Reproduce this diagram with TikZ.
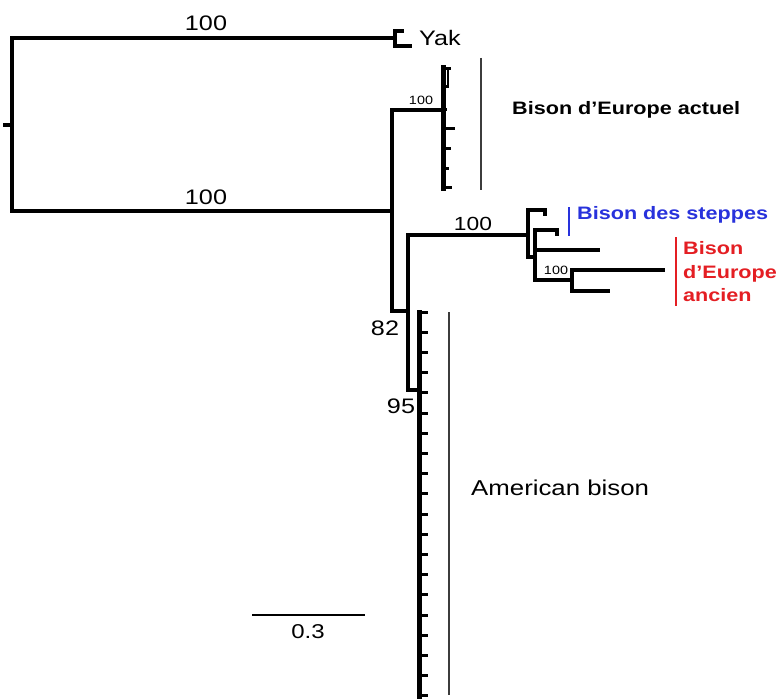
\documentclass[tikz,border=0pt]{standalone}
\usepackage{fontspec}
\setmainfont{Liberation Sans}[FakeStretch=1.2]
\definecolor{stepblue}{RGB}{40,50,220}
\definecolor{ancred}{RGB}{228,30,35}
\definecolor{bargray}{RGB}{60,60,60}
\begin{document}
\begin{tikzpicture}[x=1pt,y=-1pt,
  branch/.style={line width=3.2pt,line join=miter,line cap=rect},
  comb/.style={line width=5pt,line cap=rect},
  tick/.style={line width=3pt},
  cladebar/.style={line width=1.6pt,bargray},
  lab/.style={inner sep=0pt,font=\fontsize{21}{24}\selectfont},
  smalllab/.style={inner sep=0pt,font=\fontsize{12}{14}\selectfont},
  cladelab/.style={inner sep=0pt,anchor=west,align=left,font=\fontsize{18}{23.5}\selectfont\bfseries}]
\useasboundingbox (0,0) rectangle (783,698);
\fill[white] (0,0) rectangle (783,698);
% --- coordinates
\coordinate (rt0) at (3,125);
\coordinate (rt) at (12,125);
\coordinate (rT) at (12,38);
\coordinate (rB) at (12,211);
\coordinate (yk) at (395,38);
\coordinate (yk1) at (395,31);
\coordinate (yk2) at (395,46);
\coordinate (yk1e) at (402,31);
\coordinate (yk2e) at (410,46);
\coordinate (n1) at (392,211);
\coordinate (n1T) at (392,110);
\coordinate (n1B) at (392,311);
\coordinate (ea) at (443,110);
\coordinate (eaT) at (443,68);
\coordinate (eaB) at (443,188);
\coordinate (n2) at (408,311);
\coordinate (n2T) at (408,235);
\coordinate (n2B) at (408,390);
\coordinate (am) at (419,390);
\coordinate (amT) at (419,312);
\coordinate (amB) at (419,698);
\coordinate (sA) at (528,235);
\coordinate (sAT) at (528,210);
\coordinate (sAB) at (528,257);
\coordinate (st1) at (545,210);
\coordinate (st1d) at (545,214);
\coordinate (sB) at (535,257);
\coordinate (sBT) at (535,230);
\coordinate (sBB) at (535,280);
\coordinate (sb1) at (557,230);
\coordinate (sb1d) at (557,234);
\coordinate (sBm) at (535,250);
\coordinate (sb2) at (598,250);
\coordinate (sC) at (572,280);
\coordinate (sCT) at (572,270);
\coordinate (sCB) at (572,291);
\coordinate (sc1) at (663,270);
\coordinate (sc2) at (608,291);
% --- tree
\draw[line width=3.2pt] (rt0) -- (rt);
\draw[branch] (yk) -- (rT) -- (rB) -- (n1);
\draw[branch] (yk1e) -- (yk1) -- (yk2) -- (yk2e);
\draw[branch] (ea) -- (n1T) -- (n1B) -- (n2);
\draw[branch] (sA) -- (n2T) -- (n2B) -- (am);
\draw[branch] (st1d) -- (st1) -- (sAT) -- (sAB) -- (sB);
\draw[branch] (sb1d) -- (sb1) -- (sBT) -- (sBB) -- (sC);
\draw[branch] (sBm) -- (sb2);
\draw[branch] (sc1) -- (sCT) -- (sCB) -- (sc2);
% European comb
\draw[comb] (eaT) -- (eaB);
\foreach \yy/\xx [count=\i] in {69/451,87/449,109/447,128/455,148/451,168/449,187/452}{
  \coordinate (eb\i) at (443,\yy);
  \coordinate (ebt\i) at (\xx,\yy);
  \draw[tick] (eb\i) -- (ebt\i);
}
\coordinate (ebx1) at (448,69);
\coordinate (ebx2) at (448,87);
\draw[line width=2pt] (ebx1) -- (ebx2);
% American comb
\draw[comb] (amT) -- (amB);
\foreach \k in {0,...,19}{
  \pgfmathsetmacro{\yy}{312+20.2*\k}
  \coordinate (ab\k) at (419,\yy);
  \coordinate (abt\k) at (428,\yy);
  \draw[tick] (ab\k) -- (abt\k);
}
% --- clade bars
\coordinate (eubT) at (481,58);
\coordinate (eubB) at (481,190);
\draw[cladebar] (eubT) -- (eubB);
\coordinate (ambT) at (449,312);
\coordinate (ambB) at (449,695);
\draw[cladebar] (ambT) -- (ambB);
\coordinate (stbT) at (569,207);
\coordinate (stbB) at (569,236);
\draw[line width=2pt,stepblue] (stbT) -- (stbB);
\coordinate (anbT) at (676,237);
\coordinate (anbB) at (676,306);
\draw[line width=2pt,ancred] (anbT) -- (anbB);
% --- scale bar
\coordinate (sc0) at (252,615);
\coordinate (scE) at (365,615);
\draw[line width=1.3pt] (sc0) -- (scE);
\node[lab,font=\fontsize{20}{24}\selectfont] (scl) at (308,632) {0.3};
% --- labels
\node[lab] (l100a) at (206,23) {100};
\node[lab] (l100b) at (206,197) {100};
\node[smalllab] (l100c) at (421,100) {100};
\node[lab,font=\fontsize{19}{22}\selectfont] (l100d) at (473,224) {100};
\node[smalllab] (l100e) at (556,270) {100};
\node[lab] (l82) at (385,328) {82};
\node[lab] (l95) at (401,406) {95};
\node[lab,anchor=west] (yak) at (419,38) {Yak};
\node[cladelab] (eua) at (512,110) {Bison d’Europe actuel};
\node[cladelab,stepblue] (steppe) at (577,215) {Bison des steppes};
\node[cladelab,ancred] (anc) at (683,272) {Bison\\d’Europe\\ancien};
\node[lab,anchor=west,font=\fontsize{21.5}{24}\selectfont] (amer) at (471,488) {American bison};
\end{tikzpicture}
\end{document}
